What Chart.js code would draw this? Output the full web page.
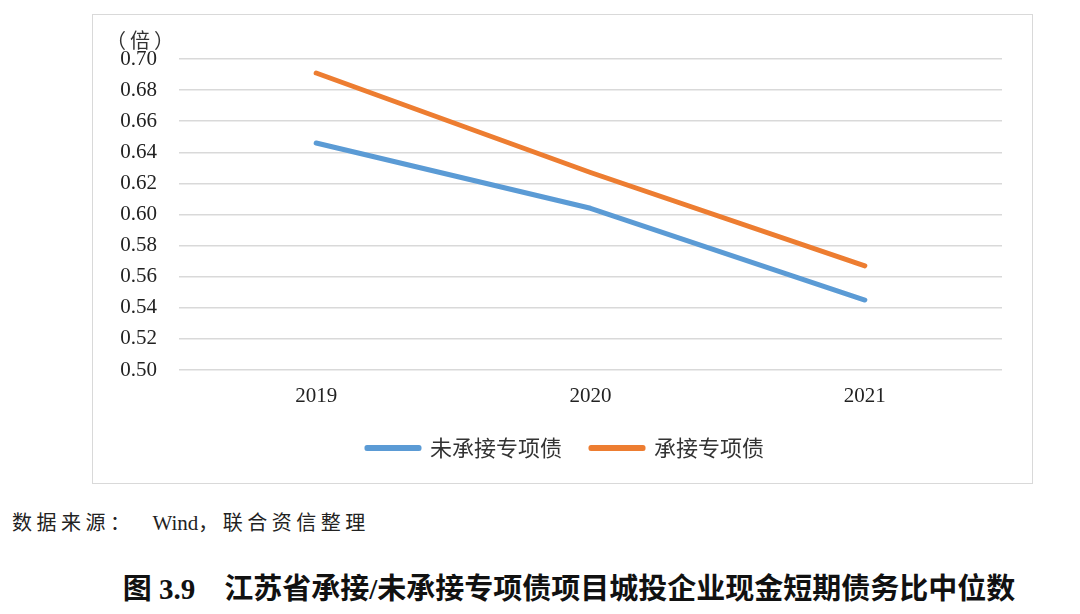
<!DOCTYPE html>
<html>
<head>
<meta charset="utf-8">
<script src="https://cdn.jsdelivr.net/npm/chart.js@4"></script>
<style>
  body { margin: 0; width: 1080px; height: 614px; background: #fff; position: relative; overflow: hidden; }
  #box { position: absolute; left: 92px; top: 14px; width: 939px; height: 468px; border: 1px solid #d9d9d9; }
  #unit { position: absolute; left: 106px; top: 25px; font: 20px "Noto Sans CJK SC", sans-serif; letter-spacing: 4px; color: #333; }
  #source { position: absolute; left: 12px; top: 507px; font: 20px "Noto Sans CJK SC", "Liberation Serif", serif; letter-spacing: 4.5px; color: #222; }
  #source span { font-family: "Liberation Serif", serif; font-size: 21px; letter-spacing: 0; }
  #title { position: absolute; left: 0; width: 1138px; text-align: center; top: 565px; font: bold 29px "Liberation Serif", "Noto Sans CJK SC", serif; color: #111; white-space: pre; }
</style>
</head>
<body>
<div id="box"><canvas id="grafico" width="939" height="468"></canvas></div>
<div id="unit">（倍）</div>
<div id="source">数据来源：&nbsp; <span>Wind</span>，联合资信整理</div>
<div id="title">图 3.9    江苏省承接/未承接专项债项目城投企业现金短期债务比中位数</div>
<script>
const anos = ['2019', '2020', '2021'];
const naoAssumiu = [0.646, 0.604, 0.545];
const assumiu = [0.691, 0.627, 0.567];

// a legenda fica centrada na caixa inteira, nao so na area com padding
const centrarLegenda = {
    id: 'centrarLegenda',
    afterLayout(chart) {
        chart.legend.left += 18;
        chart.legend.right += 18;
    }
};

new Chart(document.getElementById('grafico'), {
    type: 'line',
    data: {
        labels: anos,
        datasets: [
            {
                label: '未承接专项债',
                data: naoAssumiu,
                borderColor: '#5B9BD5',
                backgroundColor: '#5B9BD5',
                borderWidth: 5,
                borderCapStyle: 'round',
                borderJoinStyle: 'round',
                pointRadius: 0,
                tension: 0
            },
            {
                label: '承接专项债',
                data: assumiu,
                borderColor: '#ED7D31',
                backgroundColor: '#ED7D31',
                borderWidth: 5,
                borderCapStyle: 'round',
                borderJoinStyle: 'round',
                pointRadius: 0,
                tension: 0
            }
        ]
    },
    plugins: [centrarLegenda],
    options: {
        responsive: false,
        animation: false,
        layout: { padding: { top: 44, right: 30, left: 0, bottom: 14 } },
        plugins: {
            tooltip: { enabled: false },
            legend: {
                position: 'bottom',
                labels: {
                    boxWidth: 52,
                    boxHeight: 1,
                    padding: 29,
                    color: '#333',
                    font: { family: '"Noto Sans CJK SC", sans-serif', size: 22 }
                }
            }
        },
        scales: {
            y: {
                min: 0.5,
                max: 0.7,
                ticks: {
                    stepSize: 0.02,
                    color: '#222',
                    padding: 22,
                    font: { family: '"Liberation Serif", serif', size: 21 },
                    callback: v => v.toFixed(2)
                },
                grid: { color: '#d9d9d9', lineWidth: 1.5, drawTicks: false },
                border: { display: false },
                afterFit: s => { s.width = 86; }
            },
            x: {
                offset: true,
                ticks: {
                    color: '#222',
                    padding: 14,
                    font: { family: '"Liberation Serif", serif', size: 21 }
                },
                grid: { display: false, drawTicks: false },
                border: { display: false },
                afterFit: s => { s.height = 38; }
            }
        }
    }
});
</script>
</body>
</html>
